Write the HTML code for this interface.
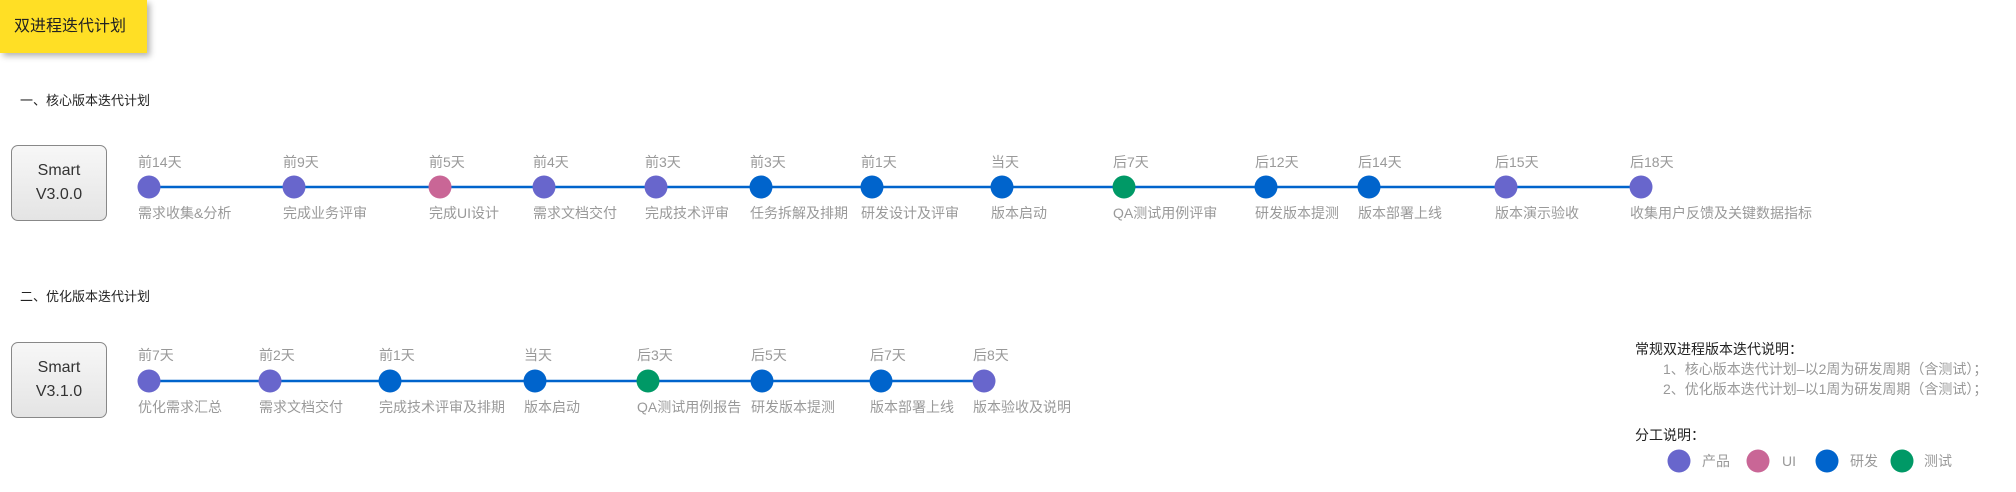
<!DOCTYPE html>
<html><head><meta charset="utf-8">
<style>
html,body{margin:0;padding:0;background:#fff;width:2016px;height:492px;overflow:hidden;position:relative;font-family:"Liberation Sans","Noto Sans CJK SC",sans-serif;}
.t{position:absolute;white-space:nowrap;}
.title{position:absolute;left:0;top:0;width:147px;height:53px;background:#ffdf25;box-shadow:3px 3px 6px rgba(0,0,0,0.3);font-size:16px;color:#222;line-height:53px;padding-left:14px;box-sizing:border-box;}
.box{position:absolute;width:96px;height:76px;border:1px solid #888;border-radius:7px;background:linear-gradient(#f7f7f7,#e4e4e4);box-sizing:border-box;text-align:center;font-size:16px;color:#333;line-height:24px;padding-top:13px;}
</style></head><body>
<div class="title">双进程迭代计划</div>
<div class="t" style="left:20px;top:90px;font-size:13px;color:#222;">一、核心版本迭代计划</div>
<div class="t" style="left:20px;top:286px;font-size:13px;color:#222;">二、优化版本迭代计划</div>
<div class="box" style="left:11px;top:145px;">Smart<br>V3.0.0</div>
<div class="box" style="left:11px;top:342px;">Smart<br>V3.1.0</div>
<svg width="2016" height="492" style="position:absolute;left:0;top:0" font-family="Liberation Sans, Noto Sans CJK SC, sans-serif" font-size="14" fill="#999">
<line x1="149" y1="187" x2="1641" y2="187" stroke="#0064cc" stroke-width="2.5"/>
<line x1="149" y1="381" x2="984" y2="381" stroke="#0064cc" stroke-width="2.5"/>
<g>
<circle cx="149" cy="187" r="11.5" fill="#6866cc"/>
<circle cx="294" cy="187" r="11.5" fill="#6866cc"/>
<circle cx="440" cy="187" r="11.5" fill="#c96696"/>
<circle cx="544" cy="187" r="11.5" fill="#6866cc"/>
<circle cx="656" cy="187" r="11.5" fill="#6866cc"/>
<circle cx="761" cy="187" r="11.5" fill="#0064cc"/>
<circle cx="872" cy="187" r="11.5" fill="#0064cc"/>
<circle cx="1002" cy="187" r="11.5" fill="#0064cc"/>
<circle cx="1124" cy="187" r="11.5" fill="#009966"/>
<circle cx="1266" cy="187" r="11.5" fill="#0064cc"/>
<circle cx="1369" cy="187" r="11.5" fill="#0064cc"/>
<circle cx="1506" cy="187" r="11.5" fill="#6866cc"/>
<circle cx="1641" cy="187" r="11.5" fill="#6866cc"/>
</g>
<g>
<text x="138" y="167">前14天</text><text x="138" y="218">需求收集&amp;分析</text>
<text x="283" y="167">前9天</text><text x="283" y="218">完成业务评审</text>
<text x="429" y="167">前5天</text><text x="429" y="218">完成UI设计</text>
<text x="533" y="167">前4天</text><text x="533" y="218">需求文档交付</text>
<text x="645" y="167">前3天</text><text x="645" y="218">完成技术评审</text>
<text x="750" y="167">前3天</text><text x="750" y="218">任务拆解及排期</text>
<text x="861" y="167">前1天</text><text x="861" y="218">研发设计及评审</text>
<text x="991" y="167">当天</text><text x="991" y="218">版本启动</text>
<text x="1113" y="167">后7天</text><text x="1113" y="218">QA测试用例评审</text>
<text x="1255" y="167">后12天</text><text x="1255" y="218">研发版本提测</text>
<text x="1358" y="167">后14天</text><text x="1358" y="218">版本部署上线</text>
<text x="1495" y="167">后15天</text><text x="1495" y="218">版本演示验收</text>
<text x="1630" y="167">后18天</text><text x="1630" y="218">收集用户反馈及关键数据指标</text>
</g>
<g>
<circle cx="149" cy="381" r="11.5" fill="#6866cc"/>
<circle cx="270" cy="381" r="11.5" fill="#6866cc"/>
<circle cx="390" cy="381" r="11.5" fill="#0064cc"/>
<circle cx="535" cy="381" r="11.5" fill="#0064cc"/>
<circle cx="648" cy="381" r="11.5" fill="#009966"/>
<circle cx="762" cy="381" r="11.5" fill="#0064cc"/>
<circle cx="881" cy="381" r="11.5" fill="#0064cc"/>
<circle cx="984" cy="381" r="11.5" fill="#6866cc"/>
</g>
<g>
<text x="138" y="360">前7天</text><text x="138" y="412">优化需求汇总</text>
<text x="259" y="360">前2天</text><text x="259" y="412">需求文档交付</text>
<text x="379" y="360">前1天</text><text x="379" y="412">完成技术评审及排期</text>
<text x="524" y="360">当天</text><text x="524" y="412">版本启动</text>
<text x="637" y="360">后3天</text><text x="637" y="412">QA测试用例报告</text>
<text x="751" y="360">后5天</text><text x="751" y="412">研发版本提测</text>
<text x="870" y="360">后7天</text><text x="870" y="412">版本部署上线</text>
<text x="973" y="360">后8天</text><text x="973" y="412">版本验收及说明</text>
</g>
<text x="1635" y="354" fill="#222" font-size="14">常规双进程版本迭代说明：</text>
<text x="1663" y="374" font-size="14">1、核心版本迭代计划–以2周为研发周期（含测试）；</text>
<text x="1663" y="394" font-size="14">2、优化版本迭代计划–以1周为研发周期（含测试）；</text>
<text x="1635" y="440" fill="#222" font-size="14">分工说明：</text>
<circle cx="1679" cy="461" r="11.5" fill="#6866cc"/>
<circle cx="1758" cy="461" r="11.5" fill="#c96696"/>
<circle cx="1827" cy="461" r="11.5" fill="#0064cc"/>
<circle cx="1902" cy="461" r="11.5" fill="#009966"/>
<text x="1702" y="466" font-size="14">产品</text>
<text x="1782" y="466" font-size="14">UI</text>
<text x="1850" y="466" font-size="14">研发</text>
<text x="1924" y="466" font-size="14">测试</text>
</svg>
</body></html>
